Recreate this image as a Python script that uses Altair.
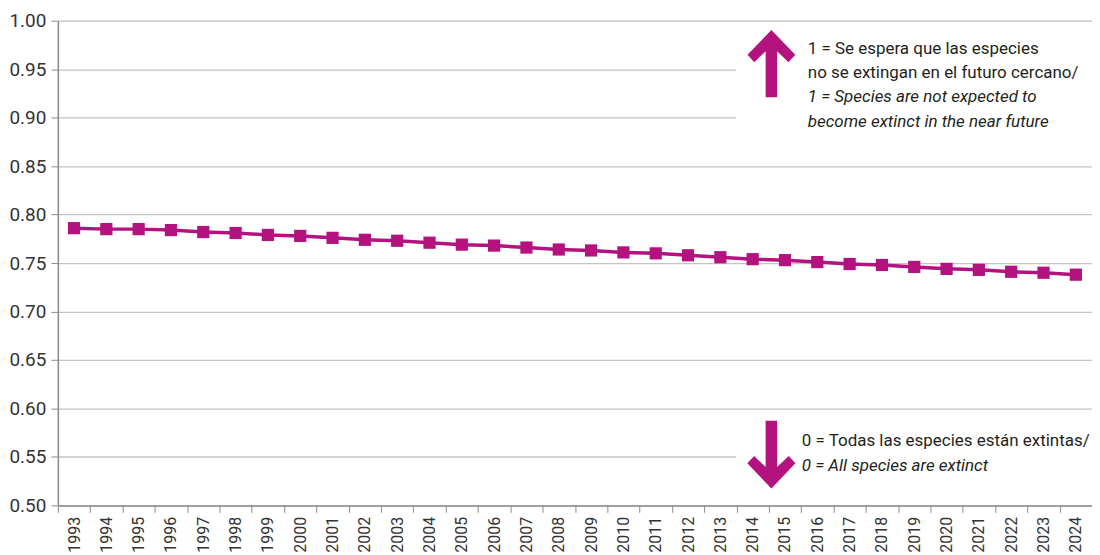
import altair as alt
import pandas as pd

years = [str(y) for y in range(1993, 2025)]
values = [0.786, 0.785, 0.785, 0.784, 0.782, 0.781, 0.779, 0.778, 0.776, 0.774,
          0.773, 0.771, 0.769, 0.768, 0.766, 0.764, 0.763, 0.761, 0.760, 0.758,
          0.756, 0.754, 0.753, 0.751, 0.749, 0.748, 0.746, 0.744, 0.743, 0.741,
          0.740, 0.738]
y_ticks = [0.50, 0.55, 0.60, 0.65, 0.70, 0.75, 0.80, 0.85, 0.90, 0.95, 1.00]

top_lines = ["1 = Se espera que las especies",
             "no se extingan en el futuro cercano/",
             "1 = Species are not expected to",
             "become extinct in the near future"]
top_italic = [False, False, True, True]
bottom_lines = ["0 = Todas las especies están extintas/",
                "0 = All species are extinct"]
bottom_italic = [False, True]

MAGENTA = "#B3127F"
FONT = "Roboto"
W, H = 1037, 486

df = pd.DataFrame({"year": years, "value": values})

x_enc = alt.X("year:N", sort=years,
              scale=alt.Scale(paddingInner=0, paddingOuter=0),
              axis=alt.Axis(title=None, labelAngle=-90, tickBand="extent",
                            labelFontSize=16, labelColor="#333333", labelFont=FONT,
                            tickColor="#8c8c8c", tickSize=7, domainColor="#8c8c8c",
                            domainWidth=1.5, labelPadding=4, grid=False))
y_enc = alt.Y("value:Q",
              scale=alt.Scale(domain=[0.5, 1.0], nice=False, zero=False),
              axis=alt.Axis(title=None, values=y_ticks, format=".2f",
                            labelFontSize=19, labelColor="#333333", labelFont=FONT,
                            tickColor="#8c8c8c", tickSize=7, domainColor="#8c8c8c",
                            domainWidth=1.5, labelPadding=5, grid=True,
                            gridColor="#c4c4c4", gridWidth=1.3))

base = alt.Chart(df)
line = base.mark_line(color=MAGENTA, strokeWidth=3.5).encode(x=x_enc, y=y_enc)
pts = base.mark_point(shape="square", filled=True, size=150, color=MAGENTA,
                      opacity=1, strokeWidth=0).encode(x=x_enc, y=y_enc)

# white boxes behind the annotations (hide the gridlines there)
box_top = alt.Chart(pd.DataFrame({"a": [0]})).mark_rect(color="white").encode(
    x=alt.value(680), x2=alt.value(W), y=alt.value(4), y2=alt.value(122))
box_bot = alt.Chart(pd.DataFrame({"a": [0]})).mark_rect(color="white").encode(
    x=alt.value(680), x2=alt.value(W), y=alt.value(395), y2=alt.value(480))

up_path = ("M0,-1 L0.71,-0.26 L0.51,-0.04 L0.17,-0.37 L0.17,1 L-0.17,1 "
           "L-0.17,-0.37 L-0.51,-0.04 L-0.71,-0.26 Z")
down_path = ("M0,1 L0.71,0.26 L0.51,0.04 L0.17,0.37 L0.17,-1 L-0.17,-1 "
             "L-0.17,0.37 L-0.51,0.04 L-0.71,0.26 Z")
arrow_up = alt.Chart(pd.DataFrame({"a": [0]})).mark_point(
    shape=up_path, filled=True, size=4550, color=MAGENTA, opacity=1, strokeWidth=0
).encode(x=alt.value(715.5), y=alt.value(43))
arrow_down = alt.Chart(pd.DataFrame({"a": [0]})).mark_point(
    shape=down_path, filled=True, size=4620, color=MAGENTA, opacity=1, strokeWidth=0
).encode(x=alt.value(715.5), y=alt.value(435))

texts = []
top_y = [33.5, 57.7, 81.9, 106.1]
for t, it, yy in zip(top_lines, top_italic, top_y):
    texts.append(alt.Chart(pd.DataFrame({"t": [t]})).mark_text(
        align="left", baseline="alphabetic", fontSize=17, font=FONT,
        fontStyle="italic" if it else "normal", color="#231f20"
    ).encode(text="t:N", x=alt.value(752), y=alt.value(yy)))
bot_y = [426.7, 451.5]
for t, it, yy in zip(bottom_lines, bottom_italic, bot_y):
    texts.append(alt.Chart(pd.DataFrame({"t": [t]})).mark_text(
        align="left", baseline="alphabetic", fontSize=17, font=FONT,
        fontStyle="italic" if it else "normal", color="#231f20"
    ).encode(text="t:N", x=alt.value(746), y=alt.value(yy)))

chart = alt.layer(line, pts, box_top, box_bot, arrow_up, arrow_down, *texts).properties(
    width=W, height=H,
    autosize=alt.AutoSizeParams(type="none"),
    padding={"left": 50, "top": 12, "right": 0, "bottom": 49},
).configure_view(stroke=None).configure(background="white")

chart.save("out.html", embed_options={"renderer": "svg", "actions": False})
